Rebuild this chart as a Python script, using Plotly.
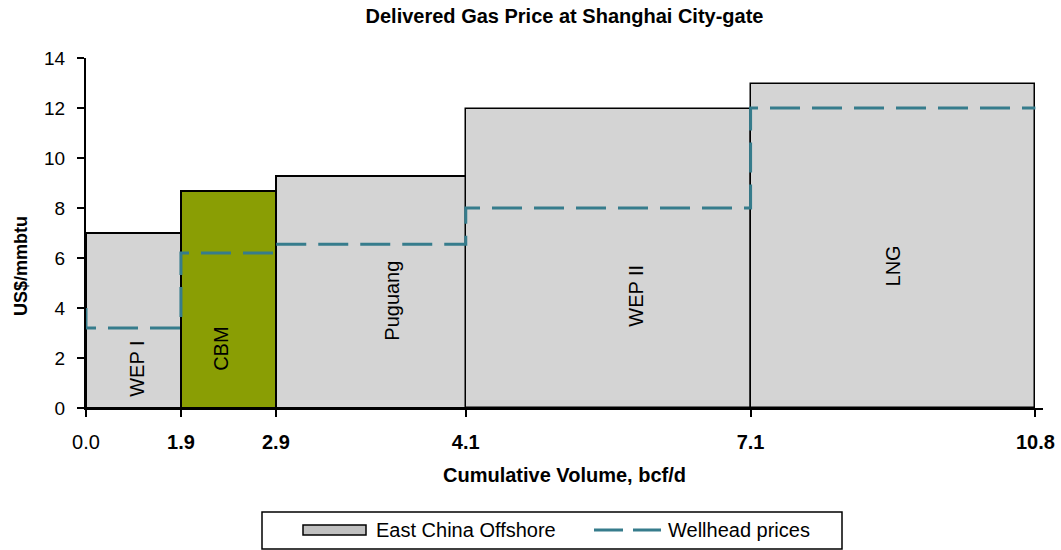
import plotly.graph_objects as go

# Data
segments = ["WEP I", "CBM", "Puguang", "WEP II", "LNG"]
slot_edges = [0, 1, 2, 4, 7, 10]          # plotting slots for each segment
cum_volume_labels = ["0.0", "1.9", "2.9", "4.1", "7.1", "10.8"]
delivered_price = [7.0, 8.7, 9.3, 11.95, 12.95]
wellhead_price = [3.2, 6.2, 6.55, 8.0, 12.0]
wellhead_start = 4.0
label_y = [1.58, 2.36, 4.28, 4.48, 5.7]
label_shift = [0.03, -0.08, 0.22, 0.29, 0.0]

GRAY = "#D4D4D4"
GREEN = "#8A9E04"
TEAL = "#367C8C"
FONT = "Liberation Sans, Arial, sans-serif"

W, H = 1061, 550
ML, MR, MT, MB = 86, 18, 58, 142
PW, PH = W - ML - MR, H - MT - MB


def px(x):
    return (x - ML) / PW


def py(y):
    return (H - MB - y) / PH


centers = [(slot_edges[i] + slot_edges[i + 1]) / 2 for i in range(len(segments))]
widths = [slot_edges[i + 1] - slot_edges[i] for i in range(len(segments))]

fig = go.Figure()

gray_idx = [i for i, s in enumerate(segments) if s != "CBM"]
green_idx = [i for i, s in enumerate(segments) if s == "CBM"]

fig.add_trace(go.Bar(
    x=[centers[i] for i in gray_idx],
    y=[delivered_price[i] for i in gray_idx],
    width=[widths[i] for i in gray_idx],
    marker=dict(color=GRAY, line=dict(color="black", width=[2, 2, 1.5, 1.5])),
    name="East China Offshore", showlegend=False,
))
fig.add_trace(go.Bar(
    x=[centers[i] for i in green_idx],
    y=[delivered_price[i] for i in green_idx],
    width=[widths[i] for i in green_idx],
    marker=dict(color=GREEN, line=dict(color="black", width=2)),
    name="CBM", showlegend=False,
))

# step line
lx = [slot_edges[0]]
ly = [wellhead_start]
for i, p in enumerate(wellhead_price):
    lx += [slot_edges[i], slot_edges[i + 1]]
    ly += [p, p]
fig.add_trace(go.Scatter(
    x=lx, y=ly, mode="lines",
    line=dict(color=TEAL, width=3, dash="30px,12px"),
    name="Wellhead prices", showlegend=False,
))

for i, s in enumerate(segments):
    fig.add_annotation(
        x=centers[i] + label_shift[i], y=label_y[i], text=s, textangle=-90,
        showarrow=False, font=dict(family=FONT, size=20, color="black"),
    )

# axis titles
fig.add_annotation(x=0.5, y=py(475), xref="paper", yref="paper",
                   text="<b>Cumulative Volume, bcf/d</b>", showarrow=False,
                   xanchor="center", yanchor="middle",
                   font=dict(family=FONT, size=20, color="black"))
fig.add_annotation(x=px(21), y=py(266), xref="paper", yref="paper",
                   text="<b>US$/mmbtu</b>", showarrow=False, textangle=-90,
                   xanchor="center", yanchor="middle",
                   font=dict(family=FONT, size=18, color="black"))

# legend (drawn manually to match swatch shapes)
fig.add_shape(type="rect", xref="paper", yref="paper",
              x0=px(262), x1=px(842), y0=py(512), y1=py(549),
              line=dict(color="black", width=1.5), fillcolor="white")
fig.add_shape(type="rect", xref="paper", yref="paper",
              x0=px(303), x1=px(366), y0=py(525), y1=py(535),
              line=dict(color="black", width=1.5), fillcolor="#C0C0C0")
fig.add_annotation(x=px(374), y=py(530), xref="paper", yref="paper",
                   text="East China Offshore", showarrow=False,
                   xanchor="left", yanchor="middle",
                   font=dict(family=FONT, size=20, color="black"))
fig.add_shape(type="line", xref="paper", yref="paper",
              x0=px(594), x1=px(661), y0=py(530), y1=py(530),
              line=dict(color=TEAL, width=3, dash="29px,10px"))
fig.add_annotation(x=px(666), y=py(530), xref="paper", yref="paper",
                   text="Wellhead prices", showarrow=False,
                   xanchor="left", yanchor="middle",
                   font=dict(family=FONT, size=20, color="black"))

ticktext = [cum_volume_labels[0]] + ["<b>%s</b>" % t for t in cum_volume_labels[1:]]

fig.update_layout(
    width=W, height=H,
    margin=dict(l=ML, r=MR, t=MT, b=MB),
    paper_bgcolor="white", plot_bgcolor="white",
    barmode="overlay", bargap=0, showlegend=False,
    font=dict(family=FONT, size=16, color="black"),
    title=dict(text="<b>Delivered Gas Price at Shanghai City-gate</b>",
               x=0.5, xref="paper", xanchor="center",
               y=1 - 16 / H, yref="container", yanchor="middle",
               font=dict(size=20, color="black")),
    xaxis=dict(
        range=[0, 10.08], tickmode="array", tickvals=slot_edges, ticktext=ticktext,
        showline=True, linecolor="black", linewidth=2, ticks="outside",
        ticklen=7, tickwidth=2, tickcolor="black", showgrid=False, zeroline=False,
        tickfont=dict(size=20), ticklabelstandoff=8, automargin=False,
    ),
    yaxis=dict(
        range=[0, 14], dtick=2, showline=True, linecolor="black", linewidth=2,
        ticks="outside", ticklen=7, tickwidth=2, tickcolor="black",
        showgrid=False, zeroline=False, tickfont=dict(size=19),
        ticklabelstandoff=8, automargin=False,
    ),
)

fig.write_html("out.html")
